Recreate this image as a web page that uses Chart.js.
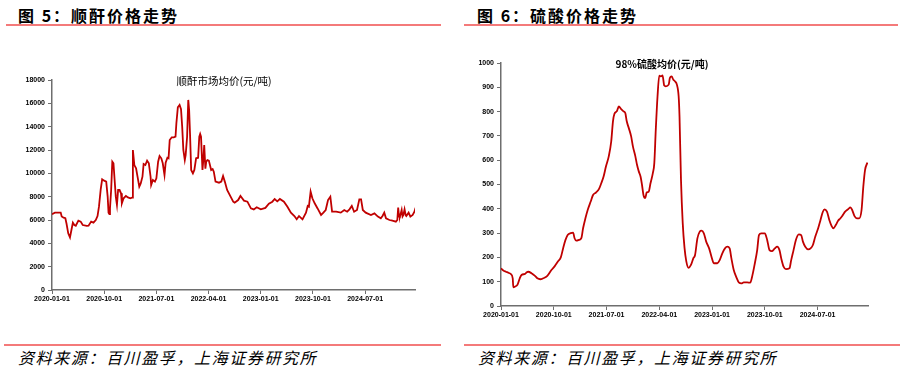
<!DOCTYPE html>
<html>
<head>
<meta charset="utf-8">
<script src="https://cdn.jsdelivr.net/npm/chart.js@4.4.1/dist/chart.umd.min.js"></script>
<style>
  body { margin: 0; width: 904px; height: 373px; background: #fff; position: relative; overflow: hidden; font-family: "Noto Sans CJK SC", sans-serif; }
  .hdr { position: absolute; top: 3px; font-size: 16px; font-weight: bold; letter-spacing: 2px; color: #000; white-space: nowrap; }
  .rule { position: absolute; height: 2px; background: #f47a7a; }
  .src { position: absolute; top: 345px; font-size: 16px; font-style: italic; letter-spacing: 1.6px; color: #000; white-space: nowrap; }
  .inner { position: absolute; font-size: 10.5px; color: #000; white-space: nowrap; transform: translate(-50%, -50%); }
  canvas { position: absolute; }
</style>
</head>
<body>
<div class="hdr" style="left:18px">图 5：顺酐价格走势</div>
<div class="hdr" style="left:477px">图 6：硫酸价格走势</div>
<div class="rule" style="left:6px;top:24px;width:435px"></div>
<div class="rule" style="left:464px;top:24px;width:434px"></div>

<canvas id="leftChart" width="450" height="270" style="left:0;top:40px"></canvas>
<canvas id="rightChart" width="454" height="286" style="left:450px;top:40px"></canvas>

<div class="inner" style="left:224px;top:80px">顺酐市场均价(元/吨)</div>
<div class="inner" style="left:662px;top:63px;font-weight:bold;font-size:10px">98%硫酸均价(元/吨)</div>

<div class="rule" style="left:4px;top:344px;width:437px"></div>
<div class="rule" style="left:464px;top:344px;width:436px"></div>
<div class="src" style="left:18px">资料来源：百川盈孚，上海证券研究所</div>
<div class="src" style="left:478px">资料来源：百川盈孚，上海证券研究所</div>

<script>
// x = months since 2020-01-01
const xTickMonths = [0, 9, 18, 27, 36, 45, 54];
const xTickLabels = ['2020-01-01', '2020-10-01', '2021-07-01', '2022-04-01', '2023-01-01', '2023-10-01', '2024-07-01'];

// 顺酐市场均价 (元/吨)
const shunganMonths = [0, 0.5, 1.5, 1.67, 2.0, 2.3, 2.5, 2.8, 3.1, 3.35, 3.6, 3.85, 4.1, 4.55, 4.95, 5.3, 6.0, 6.3, 6.75, 7.15,
  7.55, 7.85, 8.1, 8.4, 8.65, 9.0, 9.35, 9.6, 9.75, 9.9, 10.0, 10.2, 10.4, 10.6, 10.8, 11.0, 11.2, 11.4, 11.65, 11.9,
  12.05, 12.35, 12.75, 13.1, 13.5, 13.8, 13.95, 14.2, 14.5, 14.75, 15.05, 15.3, 15.6, 15.8, 16.1, 16.4, 16.7, 17.0, 17.1, 17.4,
  17.75, 18.0, 18.3, 18.55, 18.85, 19.1, 19.4, 19.6, 19.9, 20.1, 20.3, 20.65, 21.0, 21.3, 21.45, 21.7, 22.0, 22.25, 22.45, 22.65,
  22.9, 23.05, 23.3, 23.5, 23.65, 23.8, 24.0, 24.3, 24.55, 24.85, 25.2, 25.4, 25.55, 25.7, 25.95, 26.1, 26.25, 26.45, 26.6, 26.8,
  27.05, 27.45, 27.7, 27.9, 28.2, 28.8, 29.2, 29.5, 29.8, 30.2, 30.8, 31.25, 31.5, 32.1, 32.5, 32.8, 33.1, 33.7, 34.3, 34.8,
  35.3, 36.0, 36.8, 37.4, 38.0, 38.4, 38.85, 39.3, 40.0, 40.6, 41.2, 41.8, 42.2, 42.6, 43.2, 43.8, 44.1, 44.3, 44.6, 44.9,
  45.3, 45.8, 46.4, 46.8, 47.2, 47.6, 48.0, 48.3, 49.0, 49.8, 50.4, 50.9, 51.3, 51.7, 52.1, 52.6, 53.0, 53.3, 53.6, 54.1,
  55.0, 55.6, 56.2, 56.7, 57.0, 57.3, 57.6, 58.2, 58.7, 59.3, 59.55, 59.7, 59.85, 60.0, 60.3, 60.45, 60.6, 60.8, 61.0, 61.1,
  61.5, 61.8, 62.2, 62.5, 62.7];
const shunganPrice = [6500, 6630, 6630, 6300, 6200, 6150, 5700, 4860, 4500, 5140, 5770, 5570, 5510, 5940, 5860, 5570, 5490, 5510, 5860, 5770,
  6000, 6340, 7140, 8630, 9490, 9370, 9290, 8000, 6630, 6510, 7000, 8570, 11000, 10860, 9430, 8000, 7290, 8570, 8570, 8290,
  7430, 7860, 8060, 7940, 7860, 7910, 12000, 10710, 10430, 9710, 8860, 9140, 9710, 10800, 10710, 11090, 10860, 9710, 9000, 9430,
  9290, 9570, 11000, 11490, 11290, 10860, 9860, 10910, 11340, 11290, 12860, 13090, 13090, 13140, 14290, 15660, 15860, 15490, 14000, 12000,
  11140, 11570, 13140, 16290, 15430, 13430, 10290, 10000, 10290, 11290, 11340, 13140, 13370, 13140, 10290, 11140, 12430, 10400, 11000, 11140,
  11090, 10290, 10370, 10140, 9290, 9200, 9290, 9770, 9290, 8570, 8000, 7570, 7490, 7710, 8060, 7860, 7660, 7570, 7000, 6910,
  7090, 6910, 7040, 7400, 7570, 7800, 7600, 7800, 7570, 7140, 6630, 6340, 6060, 6340, 6060, 6630, 7200, 7140, 8430, 7860,
  7430, 6990, 6430, 6630, 6860, 7710, 8000, 6710, 6710, 6630, 6860, 6710, 6910, 7200, 6710, 6860, 7770, 7770, 6860, 6630,
  6430, 6570, 6290, 6140, 6340, 6630, 6140, 6000, 5940, 5860, 6000, 7060, 6300, 6290, 6860, 6300, 6430, 6910, 6400, 6340,
  6630, 6290, 6430, 6710, 7060];

// 98%硫酸均价 (元/吨)
const acidMonths = [0, 0.4, 0.85, 1.25, 1.65, 2.0, 2.1, 2.4, 2.8, 3.2, 3.5, 4.1, 4.4, 4.65, 5.2, 5.8, 6.2, 6.7, 7.2, 7.9,
  8.6, 9.2, 9.7, 10.2, 10.6, 11.0, 11.4, 11.9, 12.3, 12.55, 12.85, 13.3, 13.7, 14.0, 14.4, 14.8, 15.3, 15.7, 16.2, 16.7,
  17.1, 17.5, 17.9, 18.4, 18.8, 19.1, 19.35, 19.75, 20.1, 20.5, 20.9, 21.2, 21.45, 21.8, 22.2, 22.5, 22.9, 23.2, 23.5, 23.8,
  24.05, 24.3, 24.6, 24.85, 25.2, 25.5, 25.9, 26.15, 26.4, 26.7, 27.0, 27.3, 27.55, 27.85, 28.1, 28.6, 28.8, 29.1, 29.4, 29.7,
  30.0, 30.3, 30.45, 30.7, 31.0, 31.3, 31.6, 32.0, 32.4, 32.8, 33.1, 33.5, 33.9, 34.2, 34.6, 35.0, 35.5, 35.9, 36.3, 36.9,
  37.3, 37.75, 38.2, 38.6, 39.0, 39.3, 39.7, 40.1, 40.6, 41.0, 41.4, 42.0, 42.5, 42.9, 43.3, 43.7, 44.0, 44.4, 45.0, 45.4,
  45.8, 46.2, 46.7, 47.1, 47.5, 47.8, 48.2, 48.6, 49.2, 49.5, 49.9, 50.3, 50.8, 51.2, 51.5, 51.9, 52.4, 52.8, 53.2, 53.6,
  54.1, 54.5, 54.9, 55.2, 55.6, 56.0, 56.4, 56.7, 57.1, 57.5, 57.9, 58.3, 58.7, 59.2, 59.6, 59.9, 60.3, 60.7, 61.1, 61.5,
  61.8, 62.1, 62.5];
const acidPrice = [155, 146, 141, 137, 132, 114, 77, 80, 87, 114, 128, 132, 139, 141, 135, 124, 114, 110, 114, 124,
  148, 165, 183, 200, 238, 272, 293, 300, 302, 279, 269, 272, 279, 320, 361, 396, 430, 457, 467, 481,
  505, 533, 574, 618, 677, 760, 791, 801, 821, 810, 801, 794, 760, 732, 698, 657, 618, 581, 554, 533,
  499, 457, 444, 467, 471, 505, 547, 588, 725, 863, 948, 945, 949, 907, 904, 911, 938, 945, 931, 924,
  911, 863, 780, 520, 340, 240, 185, 157, 169, 196, 210, 278, 306, 310, 299, 265, 237, 203, 176, 176,
  189, 217, 237, 244, 237, 196, 148, 121, 96, 93, 97, 97, 96, 128, 176, 230, 292, 299, 299, 272,
  230, 226, 237, 244, 230, 196, 162, 152, 155, 189, 230, 272, 295, 292, 265, 244, 233, 237, 251, 285,
  320, 354, 388, 398, 388, 354, 329, 320, 333, 351, 361, 374, 388, 398, 406, 395, 370, 361, 361, 395,
  491, 560, 590];

const RED = '#c00000', AXIS = '#6e6e6e';
const tickFont = { family: 'Liberation Sans, Arial, sans-serif', size: 7, weight: 'bold' };

function makeChart(id, months, values, yMax, yStep, yWidth, pad, smooth) {
  return new Chart(document.getElementById(id), {
    type: 'line',
    data: { datasets: [{
      data: months.map((m, i) => ({ x: m, y: values[i] })),
      borderColor: RED,
      borderWidth: 1.8,
      pointRadius: 0,
      fill: false,
      tension: smooth ? 0.4 : 0,
      cubicInterpolationMode: smooth ? 'monotone' : 'default',
    }] },
    options: {
      responsive: false,
      animation: false,
      devicePixelRatio: 1,
      layout: { padding: pad },
      plugins: { legend: { display: false }, tooltip: { enabled: false } },
      scales: {
        x: {
          type: 'linear', min: 0, max: 62.6,
          afterBuildTicks: s => { s.ticks = xTickMonths.map(v => ({ value: v })); },
          afterFit: s => { s.height = 20; },
          ticks: { callback: v => xTickLabels[xTickMonths.indexOf(v)], font: tickFont, color: '#000', padding: 1, maxRotation: 0, autoSkip: false },
          grid: { drawOnChartArea: false, tickLength: 4, color: AXIS },
          border: { color: AXIS, width: 1.5 },
        },
        y: {
          min: 0, max: yMax,
          ticks: { stepSize: yStep, callback: v => String(v), font: tickFont, color: '#000', padding: 3 },
          afterFit: s => { s.width = yWidth; },
          grid: { drawOnChartArea: false, tickLength: 4, color: AXIS },
          border: { color: AXIS, width: 1.5 },
        }
      }
    }
  });
}

makeChart('leftChart', shunganMonths, shunganPrice, 18000, 2000, 52, { top: 40, right: 35, bottom: 0, left: 0 }, false);
makeChart('rightChart', acidMonths, acidPrice, 1000, 100, 51, { top: 23, right: 36, bottom: 0, left: 0 }, true);
</script>
</body>
</html>
